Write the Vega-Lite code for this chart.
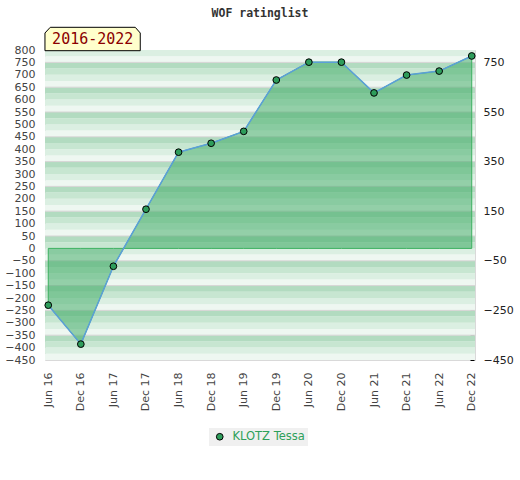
{
  "$schema": "https://vega.github.io/schema/vega-lite/v6.json",
  "width": 430,
  "height": 310,
  "autosize": {"type": "none"},
  "padding": {"left": 45, "top": 50, "right": 45, "bottom": 120},
  "title": {
    "text": "WOF ratinglist",
    "font": "DejaVu Sans Mono",
    "fontSize": 11.5,
    "fontWeight": "bold",
    "color": "#333",
    "frame": "group",
    "anchor": "middle",
    "offset": 6
  },
  "datasets": {
    "rating": [
      {"t": "Jun 16", "v": -229, "p": "KLOTZ Tessa"},
      {"t": "Dec 16", "v": -386, "p": "KLOTZ Tessa"},
      {"t": "Jun 17", "v": -72, "p": "KLOTZ Tessa"},
      {"t": "Dec 17", "v": 158, "p": "KLOTZ Tessa"},
      {"t": "Jun 18", "v": 388, "p": "KLOTZ Tessa"},
      {"t": "Dec 18", "v": 424, "p": "KLOTZ Tessa"},
      {"t": "Jun 19", "v": 472, "p": "KLOTZ Tessa"},
      {"t": "Dec 19", "v": 679, "p": "KLOTZ Tessa"},
      {"t": "Jun 20", "v": 751, "p": "KLOTZ Tessa"},
      {"t": "Dec 20", "v": 751, "p": "KLOTZ Tessa"},
      {"t": "Jun 21", "v": 627, "p": "KLOTZ Tessa"},
      {"t": "Dec 21", "v": 699, "p": "KLOTZ Tessa"},
      {"t": "Jun 22", "v": 715, "p": "KLOTZ Tessa"},
      {"t": "Dec 22", "v": 776, "p": "KLOTZ Tessa"}
    ],
    "stripes": [
      {"a": -450, "b": -425, "s": "w"}, {"a": -425, "b": -400, "s": "l"}, {"a": -400, "b": -375, "s": "m"}, {"a": -375, "b": -350, "s": "d"},
      {"a": -350, "b": -325, "s": "w"}, {"a": -325, "b": -300, "s": "l"}, {"a": -300, "b": -275, "s": "m"}, {"a": -275, "b": -250, "s": "d"},
      {"a": -250, "b": -225, "s": "w"}, {"a": -225, "b": -200, "s": "l"}, {"a": -200, "b": -175, "s": "m"}, {"a": -175, "b": -150, "s": "d"},
      {"a": -150, "b": -125, "s": "w"}, {"a": -125, "b": -100, "s": "l"}, {"a": -100, "b": -75, "s": "m"}, {"a": -75, "b": -50, "s": "d"},
      {"a": -50, "b": -25, "s": "w"}, {"a": -25, "b": 0, "s": "l"}, {"a": 0, "b": 25, "s": "m"}, {"a": 25, "b": 50, "s": "d"},
      {"a": 50, "b": 75, "s": "w"}, {"a": 75, "b": 100, "s": "l"}, {"a": 100, "b": 125, "s": "m"}, {"a": 125, "b": 150, "s": "d"},
      {"a": 150, "b": 175, "s": "w"}, {"a": 175, "b": 200, "s": "l"}, {"a": 200, "b": 225, "s": "m"}, {"a": 225, "b": 250, "s": "d"},
      {"a": 250, "b": 275, "s": "w"}, {"a": 275, "b": 300, "s": "l"}, {"a": 300, "b": 325, "s": "m"}, {"a": 325, "b": 350, "s": "d"},
      {"a": 350, "b": 375, "s": "w"}, {"a": 375, "b": 400, "s": "l"}, {"a": 400, "b": 425, "s": "m"}, {"a": 425, "b": 450, "s": "d"},
      {"a": 450, "b": 475, "s": "w"}, {"a": 475, "b": 500, "s": "l"}, {"a": 500, "b": 525, "s": "m"}, {"a": 525, "b": 550, "s": "d"},
      {"a": 550, "b": 575, "s": "w"}, {"a": 575, "b": 600, "s": "l"}, {"a": 600, "b": 625, "s": "m"}, {"a": 625, "b": 650, "s": "d"},
      {"a": 650, "b": 675, "s": "w"}, {"a": 675, "b": 700, "s": "l"}, {"a": 700, "b": 725, "s": "m"}, {"a": 725, "b": 750, "s": "d"},
      {"a": 750, "b": 775, "s": "w"}, {"a": 775, "b": 800, "s": "l"}
    ]
  },
  "layer": [
    {
      "data": {"name": "stripes"},
      "mark": {"type": "rect"},
      "encoding": {
        "y": {
          "field": "a", "type": "quantitative",
          "scale": {"domain": [-450, 800], "nice": false, "zero": false},
          "axis": {
            "orient": "left", "title": null, "grid": false, "domain": false, "tickSize": 0,
            "labelPadding": 10, "labelColor": "#444",
            "values": [-450, -400, -350, -300, -250, -200, -150, -100, -50, 0, 50, 100, 150, 200, 250, 300, 350, 400, 450, 500, 550, 600, 650, 700, 750, 800]
          }
        },
        "y2": {"field": "b"},
        "fill": {
          "field": "s", "type": "nominal",
          "scale": {"domain": ["w", "l", "m", "d"], "range": ["#eef7f1", "#dbefe2", "#c7e6d1", "#b2dbc0"]},
          "legend": null
        }
      }
    },
    {
      "data": {"name": "stripes"},
      "transform": [{"filter": "datum.s == 'd'"}],
      "mark": {"type": "rule", "color": "#d6d4d4", "strokeWidth": 1},
      "encoding": {
        "y": {
          "field": "b", "type": "quantitative",
          "scale": {"domain": [-450, 800], "nice": false, "zero": false},
          "axis": {
            "orient": "right", "title": null, "grid": false, "domain": false,
            "tickSize": 4, "tickColor": "#000", "offset": -5, "labelPadding": 9, "labelColor": "#222",
            "values": [-450, -350, -250, -150, -50, 50, 150, 250, 350, 450, 550, 650, 750],
            "labelExpr": "(datum.value + 450) % 200 == 0 ? datum.label : ''"
          }
        }
      }
    },
    {
      "data": {"name": "rating"},
      "mark": {"type": "area", "fill": "#38a75f", "fillOpacity": 0.5, "stroke": "#3cb060", "strokeWidth": 1},
      "encoding": {
        "x": {
          "field": "t", "type": "nominal", "sort": null,
          "scale": {"type": "point", "padding": 0.1},
          "axis": {"title": null, "labelAngle": -90, "ticks": false, "tickSize": 0, "domain": false, "labelPadding": 12, "labelColor": "#444"}
        },
        "y": {"field": "v", "type": "quantitative", "scale": {"domain": [-450, 800], "nice": false, "zero": false}, "axis": null},
        "y2": {"datum": 0}
      }
    },
    {
      "data": {"name": "rating"},
      "mark": {"type": "line", "color": "#5b9fd9", "strokeWidth": 1.5},
      "encoding": {
        "x": {"field": "t", "type": "nominal", "sort": null},
        "y": {"field": "v", "type": "quantitative", "scale": {"domain": [-450, 800], "nice": false, "zero": false}, "axis": null}
      }
    },
    {
      "data": {"name": "rating"},
      "mark": {"type": "point", "filled": true, "stroke": "#000", "strokeWidth": 1, "size": 45, "opacity": 1},
      "encoding": {
        "x": {"field": "t", "type": "nominal", "sort": null},
        "y": {"field": "v", "type": "quantitative", "scale": {"domain": [-450, 800], "nice": false, "zero": false}, "axis": null},
        "color": {
          "field": "p", "type": "nominal",
          "scale": {"range": ["#2e9d5b"]},
          "legend": {
            "orient": "none", "legendX": 164, "legendY": 378, "direction": "horizontal",
            "title": null, "fillColor": "#f0f0f0", "padding": 3,
            "labelColor": "#2ea05a", "labelFont": "DejaVu Sans", "labelFontSize": 11.5,
            "symbolType": "circle", "symbolSize": 45, "symbolStrokeColor": "#000", "symbolStrokeWidth": 1,
            "symbolOffset": 2, "labelOffset": 7
          }
        }
      }
    },
    {
      "data": {"values": [{"label": "2016-2022"}]},
      "mark": {
        "type": "point", "filled": true, "fill": "#ffffcc", "stroke": "#000", "strokeWidth": 1, "opacity": 1, "size": 400,
        "shape": "M -0.33 0.07 L -0.33 -1.7 L 0.2 -2.27 L 8.7 -2.27 L 9.2 -1.7 L 9.2 0.07 Z"
      },
      "encoding": {
        "x": {"datum": "Jun 16", "type": "nominal"},
        "y": {"datum": 800, "type": "quantitative", "axis": null}
      }
    },
    {
      "data": {"values": [{"label": "2016-2022"}]},
      "mark": {"type": "text", "font": "DejaVu Sans Mono", "fontSize": 15, "color": "#8b0000", "align": "center", "baseline": "middle", "dx": 44.5, "dy": -11},
      "encoding": {
        "x": {"datum": "Jun 16", "type": "nominal"},
        "y": {"datum": 800, "type": "quantitative", "axis": null},
        "text": {"field": "label"}
      }
    }
  ],
  "resolve": {"axis": {"y": "independent"}},
  "config": {
    "view": {"stroke": "#d9d9d9"},
    "axis": {"labelFont": "DejaVu Sans", "labelFontSize": 11}
  }
}
